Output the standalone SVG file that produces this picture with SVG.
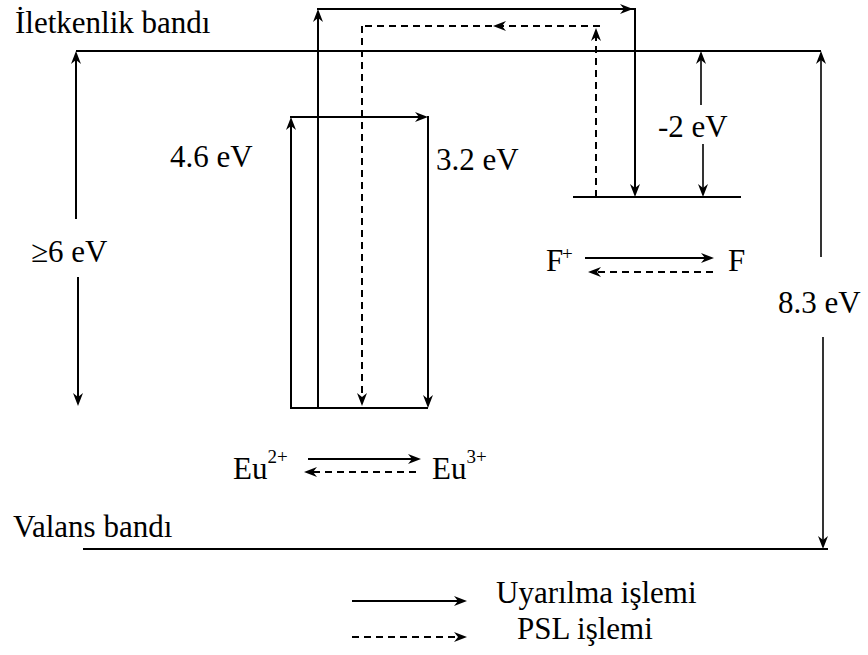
<svg xmlns="http://www.w3.org/2000/svg" width="868" height="655" viewBox="0 0 868 655">
<defs>
<path id="ah" d="M0,0 L-13,-5 L-9,0 L-13,5 Z" fill="#000"/>
</defs>
<rect width="868" height="655" fill="#fff"/>

<g stroke="#000" stroke-width="2" fill="none">
<line id="conduction-band" x1="76" y1="51" x2="821" y2="51"/>
<line id="valence-band" x1="83" y1="549" x2="828" y2="549"/>
<line id="eu-level" x1="291" y1="408" x2="428" y2="408"/>
<line id="f-level" x1="573" y1="197" x2="741" y2="197"/>
</g>

<g id="texts" font-family="Liberation Serif, Times New Roman, serif" font-size="31" fill="#000">
<text x="15" y="33">İletkenlik bandı</text>
<text x="13" y="537">Valans bandı</text>
<text x="233" y="479">Eu<tspan font-size="19" dy="-16">2+</tspan></text>
<text x="432" y="479">Eu<tspan font-size="19" dy="-16">3+</tspan></text>
<text x="546" y="271">F<tspan font-size="19" x="562" dy="-11">+</tspan></text>
<text x="728" y="271">F</text>
<text x="170" y="167">4.6 eV</text>
<text x="436" y="170">3.2 eV</text>
<text x="31" y="262">≥6 eV</text>
<text x="658" y="137">-2 eV</text>
<text x="778" y="313">8.3 eV</text>
<text x="496" y="603">Uyarılma işlemi</text>
<text x="517" y="639">PSL işlemi</text>
</g>

<g id="legend">
<g stroke="#000" stroke-width="2" fill="none">
<line x1="352" y1="601" x2="458" y2="601"/>
<line x1="352" y1="637" x2="458" y2="637" stroke-dasharray="7 5"/>
</g>
<use href="#ah" transform="translate(467,601)"/>
<use href="#ah" transform="translate(467,637)"/>
</g>

<g id="connectors">
<g stroke="#000" stroke-width="2" fill="none">
<line x1="76" y1="219" x2="76" y2="60"/>
<line x1="78" y1="277" x2="78" y2="397"/>
<line x1="821" y1="257" x2="821" y2="60" stroke-width="1.6"/>
<line x1="823" y1="337" x2="823" y2="540" stroke-width="1.6"/>
<line x1="701" y1="105" x2="701" y2="60" stroke-width="1.6"/>
<line x1="703" y1="144" x2="703" y2="188" stroke-width="1.6"/>
<line x1="291" y1="409" x2="291" y2="126"/>
<line x1="290" y1="117" x2="419" y2="117"/>
<line x1="428" y1="116" x2="428" y2="399"/>
<line x1="318" y1="409" x2="318" y2="18"/>
<line x1="317" y1="9" x2="636" y2="9"/>
<line x1="635" y1="8" x2="635" y2="188"/>
<line x1="308" y1="459" x2="412" y2="459"/>
<line x1="585" y1="258" x2="705" y2="258"/>
<g stroke-dasharray="7 5">
<line x1="596" y1="197" x2="596" y2="37"/>
<line x1="600" y1="26" x2="362" y2="26"/>
<line x1="362" y1="26" x2="362" y2="397"/>
<line x1="416" y1="472" x2="313" y2="472"/>
<line x1="713" y1="272" x2="597" y2="272"/>
</g>
</g>
<use href="#ah" transform="translate(76,51) rotate(-90)"/>
<use href="#ah" transform="translate(78,406) rotate(90)"/>
<use href="#ah" transform="translate(821,51) rotate(-90)"/>
<use href="#ah" transform="translate(823,549) rotate(90)"/>
<use href="#ah" transform="translate(701,51) rotate(-90)"/>
<use href="#ah" transform="translate(703,197) rotate(90)"/>
<use href="#ah" transform="translate(291,117) rotate(-90)"/>
<use href="#ah" transform="translate(428,117)"/>
<use href="#ah" transform="translate(428,408) rotate(90)"/>
<use href="#ah" transform="translate(318,9) rotate(-90)"/>
<use href="#ah" transform="translate(633,9)"/>
<use href="#ah" transform="translate(635,197) rotate(90)"/>
<use href="#ah" transform="translate(421,459)"/>
<use href="#ah" transform="translate(714,258)"/>
<use href="#ah" transform="translate(596,28) rotate(-90)"/>
<use href="#ah" transform="translate(493,26) rotate(180)"/>
<use href="#ah" transform="translate(362,406) rotate(90)"/>
<use href="#ah" transform="translate(304,472) rotate(180)"/>
<use href="#ah" transform="translate(588,272) rotate(180)"/>
</g>
</svg>
